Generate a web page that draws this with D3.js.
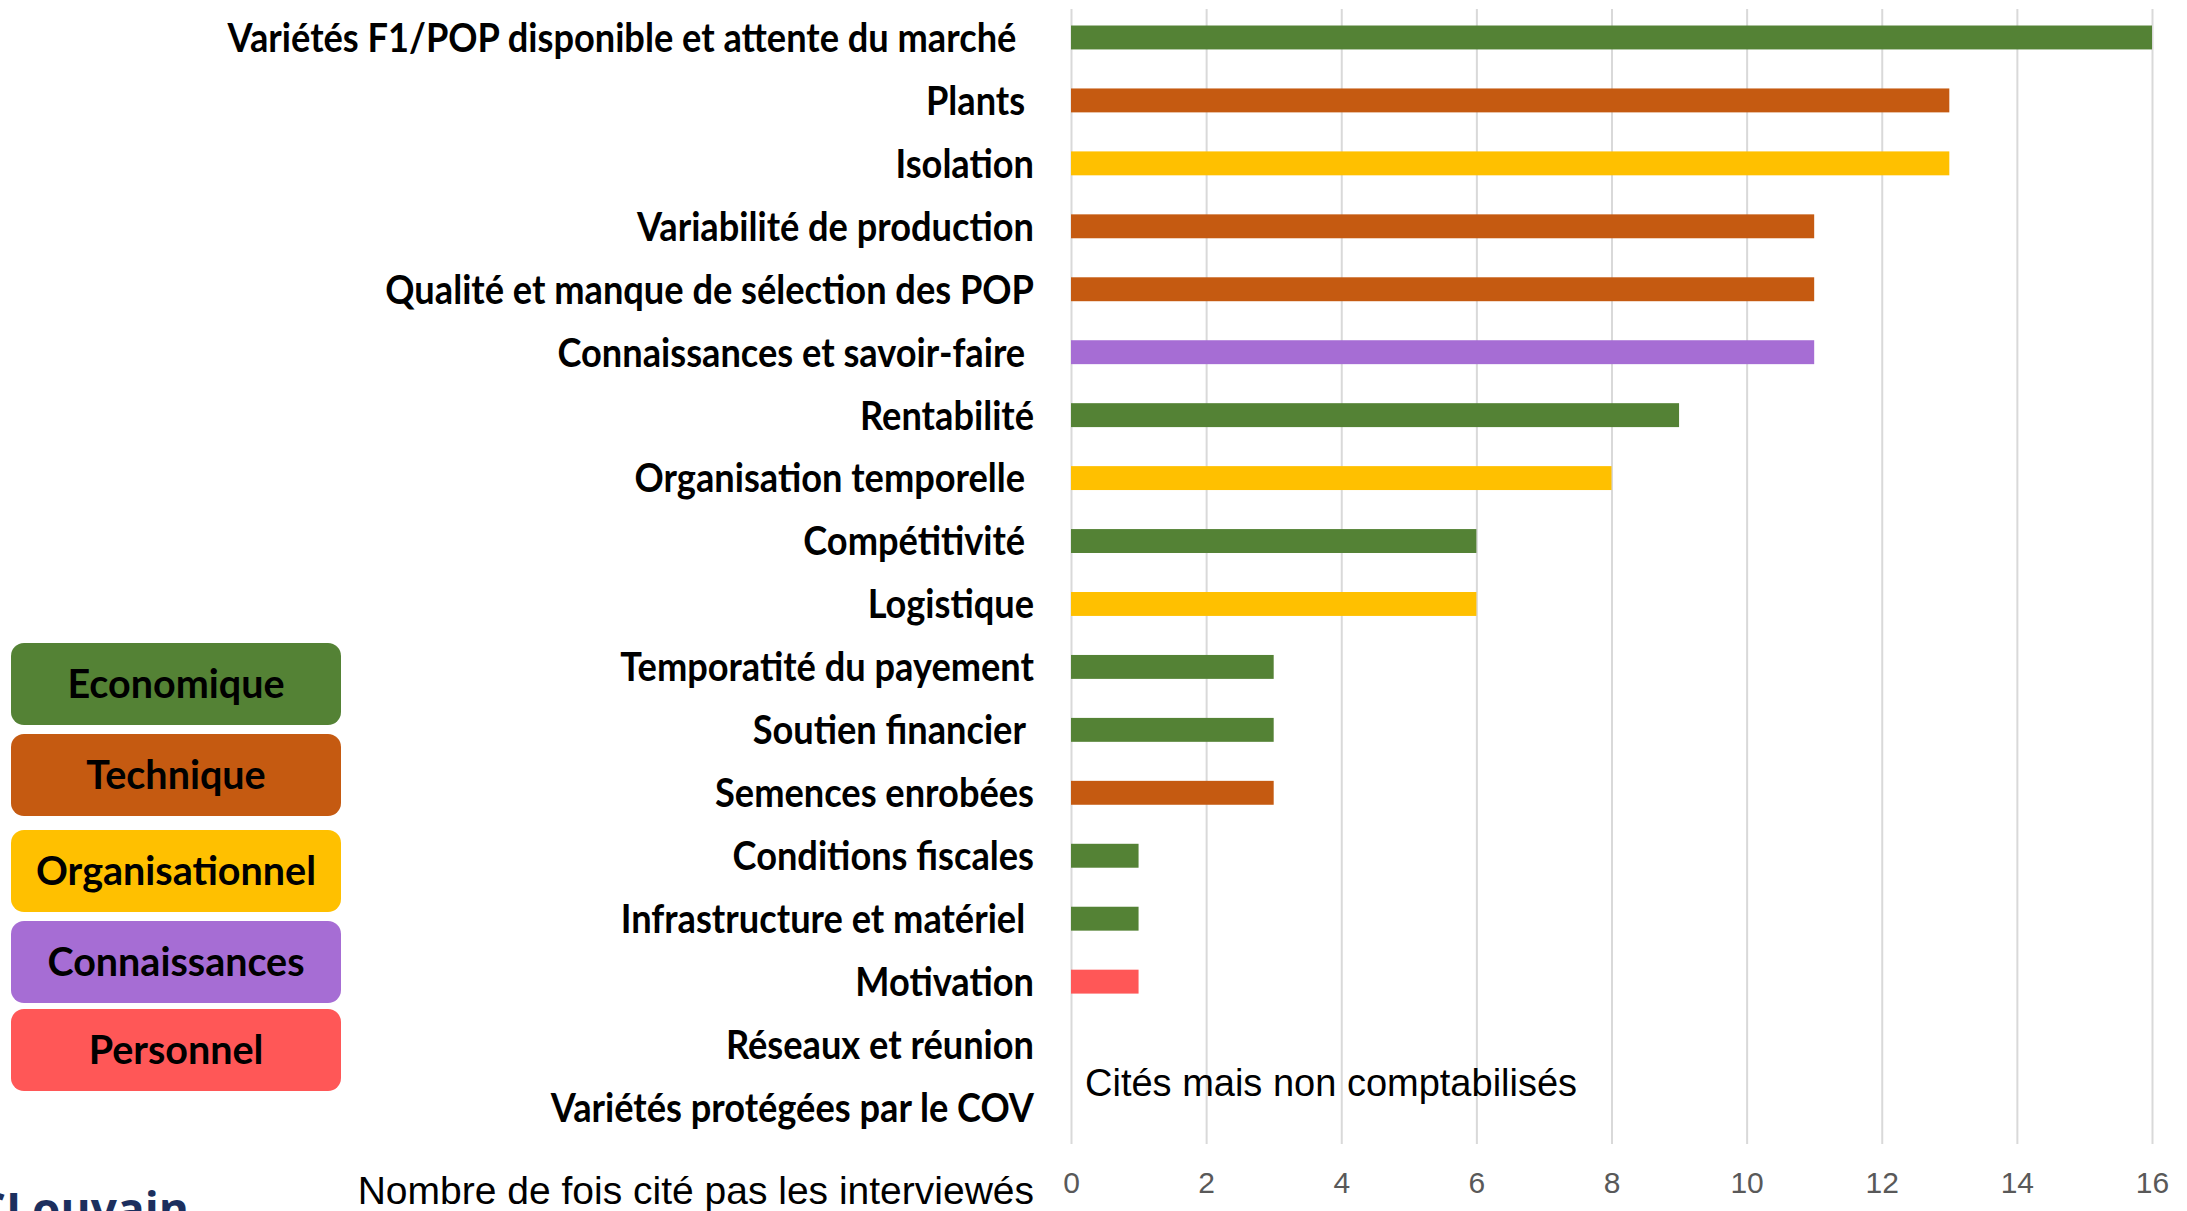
<!DOCTYPE html>
<html lang="fr">
<head>
<meta charset="UTF-8">
<title>Freins cités par les interviewés</title>
<script src="https://cdn.jsdelivr.net/npm/d3@7"></script>
<style>
  body { margin: 0; background: #fff; }
  svg { display: block; }
  .lab { font-family: Lato, "Liberation Sans", sans-serif; font-weight: bold; font-size: 40px; fill: #000; white-space: pre; }
  .axis--x text { font-family: "Liberation Sans", sans-serif; font-size: 30px; fill: #595959; }
  .axis--x path { display: none; }
  .grid line { stroke: #d9d9d9; stroke-width: 2; }
  .grid path { display: none; }
  .note { font-family: "Liberation Sans", sans-serif; font-size: 38px; fill: #000; }
  .leg { font-family: Lato, "Liberation Sans", sans-serif; font-weight: bold; font-size: 40px; fill: #000; }
</style>
</head>
<body>
<svg width="2187" height="1211"></svg>
<script>

// categories (trailing spaces are in the original labels)
var labels = [
  "Variétés F1/POP disponible et attente du marché  ",
  "Plants ",
  "Isolation",
  "Variabilité de production",
  "Qualité et manque de sélection des POP",
  "Connaissances et savoir-faire ",
  "Rentabilité",
  "Organisation temporelle ",
  "Compétitivité ",
  "Logistique",
  "Temporatité du payement",
  "Soutien financier ",
  "Semences enrobées",
  "Conditions fiscales",
  "Infrastructure et matériel ",
  "Motivation",
  "Réseaux et réunion",
  "Variétés protégées par le COV"
];
var counts = [16, 13, 13, 11, 11, 11, 9, 8, 6, 6, 3, 3, 3, 1, 1, 1, 0, 0];
var kinds = [
  "Economique", "Technique", "Organisationnel", "Technique", "Technique",
  "Connaissances", "Economique", "Organisationnel", "Economique", "Organisationnel",
  "Economique", "Economique", "Technique", "Economique", "Economique",
  "Personnel", "Economique", "Economique"
];
var kindNames = ["Economique", "Technique", "Organisationnel", "Connaissances", "Personnel"];
var kindColors = ["#548235", "#c55a11", "#ffc000", "#a66dd4", "#ff5757"];
var tickValues = [0, 2, 4, 6, 8, 10, 12, 14, 16];

var svg = d3.select("svg");

var x = d3.scaleLinear().domain([0, 16]).range([1071, 2152]);
var y = d3.scaleBand().domain(labels).range([6, 1139]).paddingInner(0.62).paddingOuter(0.31);
var color = d3.scaleOrdinal().domain(kindNames).range(kindColors);

// width of a string in a given class, used to squeeze the text like the slide
function textWidth(cls, s) {
  var t = svg.append("text").attr("class", cls).text(s);
  var w = t.node().getComputedTextLength();
  t.remove();
  return w;
}
var labScale = 789 / textWidth("lab", labels[0].trim());
var legScale = 280 / textWidth("leg", "Organisationnel");

// vertical gridlines
svg.append("g")
    .attr("class", "grid")
    .attr("transform", "translate(0,9)")
    .call(d3.axisBottom(x).tickValues(tickValues).tickSize(1135).tickFormat(""));

// bars
svg.selectAll(".bar")
  .data(labels)
  .enter().append("rect")
    .attr("class", "bar")
    .attr("x", x(0))
    .attr("y", function(d) { return y(d); })
    .attr("width", function(d, i) { return x(counts[i]) - x(0); })
    .attr("height", y.bandwidth())
    .attr("fill", function(d, i) { return color(kinds[i]); });

// category labels
svg.selectAll(".lab")
  .data(labels)
  .enter().append("text")
    .attr("class", "lab")
    .attr("transform", function(d) {
      return "translate(1034," + (y(d) + y.bandwidth() / 2) + ") scale(" + labScale + ",1)";
    })
    .attr("dy", "0.36em")
    .attr("text-anchor", "end")
    .text(function(d) { return d; });

// x axis tick labels
svg.append("g")
    .attr("class", "axis axis--x")
    .attr("transform", "translate(0,1172)")
    .call(d3.axisBottom(x).tickValues(tickValues).tickSize(0).tickPadding(0));

svg.append("text")
    .attr("class", "note")
    .attr("x", 1034)
    .attr("y", 1204)
    .attr("text-anchor", "end")
    .style("font-size", "39px")
    .text("Nombre de fois cité pas les interviewés");

svg.append("text")
    .attr("class", "note")
    .attr("x", 1085)
    .attr("y", 1096)
    .text("Cités mais non comptabilisés");

// legend boxes
var lg = svg.selectAll(".legend")
  .data(kindNames)
  .enter().append("g")
    .attr("class", "legend")
    .attr("transform", function(d, i) { return "translate(11," + [643, 734, 830, 921, 1009][i] + ")"; });

lg.append("rect")
    .attr("width", 330)
    .attr("height", 82)
    .attr("rx", 13)
    .attr("fill", function(d) { return color(d); });

lg.append("text")
    .attr("class", "leg")
    .attr("transform", "translate(165,41) scale(" + legScale + ",1)")
    .attr("dy", "0.36em")
    .attr("text-anchor", "middle")
    .text(function(d) { return d; });

// cropped logo at bottom left
svg.append("text")
    .attr("x", 189)
    .attr("y", 1226)
    .attr("text-anchor", "end")
    .style("font-family", "Open Sans, sans-serif")
    .style("font-weight", "bold")
    .style("font-size", "46px")
    .style("fill", "#1c2f5e")
    .text("UCLouvain");

</script>
</body>
</html>
